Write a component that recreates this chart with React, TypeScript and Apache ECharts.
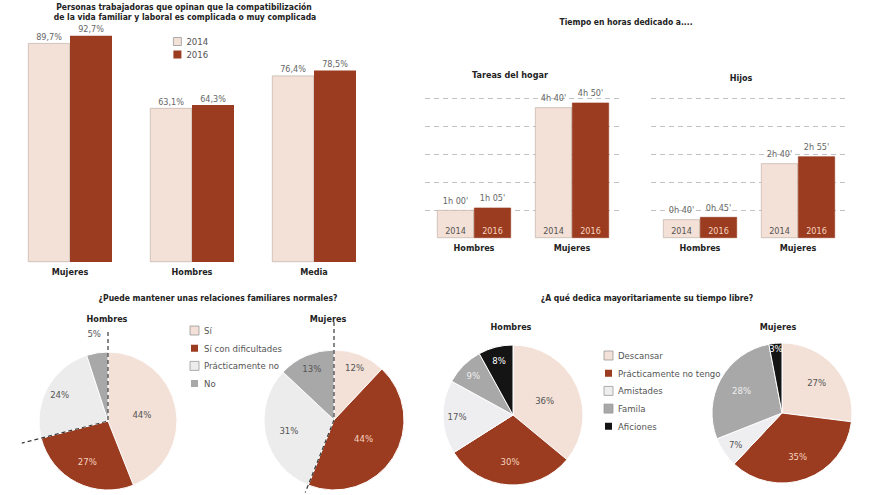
import React, { useEffect, useRef } from 'react';
import * as echarts from 'echarts';

// ---------- data ----------
const groups = ['Mujeres', 'Hombres', 'Media'];
const compat2014 = [89.7, 63.1, 76.4];
const compat2016 = [92.7, 64.3, 78.5];
const years = ['2014', '2016'];

const sexes = ['Hombres', 'Mujeres'];
const hogar2014 = [60, 280]; // minutes
const hogar2016 = [65, 290];
const hijos2014 = [40, 160];
const hijos2016 = [45, 175];

const relacionesNames = ['Sí', 'Sí con dificultades', 'Prácticamente no', 'No'];
const relacionesHombres = [44, 27, 24, 5];
const relacionesMujeres = [12, 44, 31, 13];

const libreNames = ['Descansar', 'Prácticamente no tengo', 'Amistades', 'Famila', 'Aficiones'];
const libreHombres = [36, 30, 17, 9, 8];
const libreMujeres = [27, 35, 7, 28, 3];

// ---------- style ----------
const FONT = "'Liberation Sans Narrow', 'DejaVu Sans Condensed', 'Open Sans', sans-serif";
const BEIGE = '#f3e0d6';
const BROWN = '#9b3b20';
const LIGHT = '#ececec';
const GRAY = '#a8a8a8';
const BLACK = '#141414';
const TXT = '#555';

const pct = (v: number) => v.toFixed(1).replace('.', ',') + '%';
const hm = (m: number) => `${Math.floor(m / 60)}h ${String(m % 60).padStart(2, '0')}'`;
const sum = (a: number[]) => a.reduce((s, v) => s + v, 0);

function pieSeries(
  name: string, names: string[], values: number[], colors: string[], labelColors: string[],
  cx: number, cy: number, r: number, smallFactor: number
) {
  const total = sum(values);
  return {
    type: 'pie', name, center: [cx, cy], radius: r, startAngle: 90, clockwise: true,
    silent: true,
    data: values.map((v, i) => ({
      name: names[i], value: v,
      itemStyle: { color: colors[i] },
      label: { color: labelColors[i] },
    })),
    label: { show: true, position: 'inside', formatter: '{c}%', fontSize: 9.5, fontFamily: FONT },
    labelLine: { show: false },
    itemStyle: { borderColor: '#ffffff', borderWidth: 1 },
    labelLayout: (p: any) => {
      const i = p.dataIndex;
      let before = 0;
      for (let k = 0; k < i; k++) before += values[k];
      const share = values[i] / total;
      const mid = ((before + values[i] / 2) / total) * 2 * Math.PI;
      const f = share >= 0.36 ? 0.5 : share >= 0.26 ? 0.66 : share >= 0.06 ? 0.8 : smallFactor;
      return { x: cx + r * f * Math.sin(mid), y: cy - r * f * Math.cos(mid), align: 'center', verticalAlign: 'middle' };
    },
  };
}

function splitLine(cx: number, cy: number, r: number, values: number[], upExt: number, downExt: number) {
  const a = ((values[0] + values[1]) / sum(values)) * 2 * Math.PI;
  return {
    type: 'polyline', z: 100,
    shape: { points: [[cx, cy - r - upExt], [cx, cy], [cx + (r + downExt) * Math.sin(a), cy - (r + downExt) * Math.cos(a)]] },
    style: { stroke: '#3a3a3a', lineWidth: 1.2, lineDash: [4, 3], fill: null },
  };
}

const txt = (text: string, x: number, y: number, size = 8.5, weight: any = 'bold') => ({
  type: 'text', x, y, z: 100,
  style: { text, x: 0, y: 0, align: 'center', verticalAlign: 'middle', fill: '#222', font: `${weight} ${size}px ${FONT}`, lineHeight: 10 },
});

const timeAxisY = (gridIndex: number) => ({
  type: 'value', gridIndex, min: 0, max: 5, interval: 1,
  axisLabel: { show: false }, axisLine: { show: false }, axisTick: { show: false },
  splitLine: { show: true, lineStyle: { color: ['rgba(0,0,0,0)', '#c2c2c2', '#c2c2c2', '#c2c2c2', '#c2c2c2', '#c2c2c2'], type: [5, 4], width: 1 } },
});
const catAxis = (gridIndex: number, data: string[], margin: number) => ({
  type: 'category', gridIndex, data,
  axisLine: { show: false }, axisTick: { show: false },
  axisLabel: { fontFamily: FONT, fontWeight: 'bold', fontSize: 9, color: '#222', margin },
});

function timeSeries(axis: number, stackKey: string, year: string, minutes: number[], color: string, yearColor: string, border: string) {
  return [
    {
      type: 'bar', name: year, xAxisIndex: axis, yAxisIndex: axis, stack: stackKey + year,
      data: minutes.map((m) => m / 60), barWidth: 37, barGap: 0,
      itemStyle: { color, borderColor: border, borderWidth: 0.6 },
      label: { show: true, position: 'insideBottom', distance: 3, formatter: year, color: yearColor, fontSize: 9, fontFamily: FONT },
    },
    {
      type: 'bar', name: 'v' + stackKey + year, xAxisIndex: axis, yAxisIndex: axis, stack: stackKey + year,
      data: minutes.map(() => 0), barWidth: 37, barGap: 0,
      itemStyle: { color: 'rgba(0,0,0,0)' },
      label: { show: true, position: 'top', distance: 5, formatter: (p: any) => hm(minutes[p.dataIndex]), color: '#666', fontSize: 9, fontFamily: FONT },
    },
  ];
}

export default function App() {
  const ref = useRef<HTMLDivElement>(null);
  useEffect(() => {
    const chart = echarts.init(ref.current!, null, { renderer: 'svg' });
    const legendBox = { borderColor: '#999', borderWidth: 0.8 };
    chart.setOption({
      animation: false,
      backgroundColor: '#fff',
      textStyle: { fontFamily: FONT },
      grid: [
        { left: 9, top: 18, width: 366, height: 244 },
        { left: 425, top: 98, width: 196, height: 140 },
        { left: 651, top: 98, width: 196, height: 140 },
      ],
      xAxis: [catAxis(0, groups, 5), catAxis(1, sexes, 5), catAxis(2, sexes, 5)],
      yAxis: [
        { type: 'value', gridIndex: 0, min: 0, max: 100, show: false, splitLine: { show: false } },
        timeAxisY(1),
        timeAxisY(2),
      ],
      legend: [
        {
          data: [{ name: years[0], itemStyle: legendBox }, { name: years[1] }],
          orient: 'vertical', left: 168, top: 31, itemWidth: 8, itemHeight: 8, itemGap: 2,
          textStyle: { color: TXT, fontSize: 9.5, fontFamily: FONT, lineHeight: 11 }, icon: 'rect', selectedMode: false,
        },
        {
          data: relacionesNames.map((n, i) => (i === 1 || i === 3 ? { name: n } : { name: n, itemStyle: legendBox })),
          orient: 'vertical', left: 184, top: 320, itemWidth: 9, itemHeight: 9, itemGap: 6.7,
          textStyle: { color: TXT, fontSize: 9.5, fontFamily: FONT, lineHeight: 11 }, icon: 'rect', selectedMode: false,
        },
        {
          data: libreNames.map((n, i) => (i === 1 || i === 4 ? { name: n } : { name: n, itemStyle: legendBox })),
          orient: 'vertical', left: 598, top: 345, itemWidth: 9, itemHeight: 9, itemGap: 6.7,
          textStyle: { color: TXT, fontSize: 9.5, fontFamily: FONT, lineHeight: 11 }, icon: 'rect', selectedMode: false,
        },
      ],
      series: [
        {
          type: 'bar', name: years[0], xAxisIndex: 0, yAxisIndex: 0, data: compat2014, barWidth: 42, barGap: 0,
          itemStyle: { color: BEIGE, borderColor: '#b9a79e', borderWidth: 0.6 },
          label: { show: true, position: 'top', distance: 2, formatter: (p: any) => pct(p.value), color: '#666', fontSize: 9, fontFamily: FONT },
        },
        {
          type: 'bar', name: years[1], xAxisIndex: 0, yAxisIndex: 0, data: compat2016, barWidth: 42, barGap: 0,
          itemStyle: { color: BROWN },
          label: { show: true, position: 'top', distance: 2, formatter: (p: any) => pct(p.value), color: '#666', fontSize: 9, fontFamily: FONT },
        },
        ...timeSeries(1, 'hogar', years[0], hogar2014, BEIGE, '#555', '#b9a79e'),
        ...timeSeries(1, 'hogar', years[1], hogar2016, BROWN, '#f6d3bf', BROWN),
        ...timeSeries(2, 'hijos', years[0], hijos2014, BEIGE, '#555', '#b9a79e'),
        ...timeSeries(2, 'hijos', years[1], hijos2016, BROWN, '#f6d3bf', BROWN),
        pieSeries('Relaciones Hombres', relacionesNames, relacionesHombres,
          [BEIGE, BROWN, LIGHT, GRAY], [TXT, '#f6d3bf', TXT, TXT], 108, 421, 69, 1.28),
        pieSeries('Relaciones Mujeres', relacionesNames, relacionesMujeres,
          [BEIGE, BROWN, LIGHT, GRAY], [TXT, '#f6d3bf', TXT, TXT], 334, 420, 70, 1.28),
        pieSeries('Libre Hombres', libreNames, libreHombres,
          [BEIGE, BROWN, '#eeeef1', GRAY, BLACK], [TXT, '#f6d3bf', TXT, '#eee', '#fff'], 513, 415, 70, 0.92),
        pieSeries('Libre Mujeres', libreNames, libreMujeres,
          [BEIGE, BROWN, '#eeeef1', GRAY, BLACK], [TXT, '#f6d3bf', TXT, '#eee', '#fff'], 782, 413, 70, 0.92),
      ],
      graphic: [
        txt('Personas trabajadoras que opinan que la compatibilización', 184, 7),
        txt('de la vida familiar y laboral es complicada o muy complicada', 185, 17),
        txt('Tiempo en horas dedicado a....', 626, 22),
        txt('Tareas del hogar', 510, 75, 9),
        txt('Hijos', 741, 78, 9),
        txt('¿Puede mantener unas relaciones familiares normales?', 218, 298),
        txt('Hombres', 107, 319, 9),
        txt('Mujeres', 328, 319, 9),
        txt('¿A qué dedica mayoritariamente su tiempo libre?', 647, 298),
        txt('Hombres', 511, 327, 9),
        txt('Mujeres', 778, 327, 9),
        splitLine(108, 421, 69, relacionesHombres, 20, 20),
        splitLine(334, 420, 70, relacionesMujeres, 28, 8),
      ],
    });
    return () => chart.dispose();
  }, []);
  return <div ref={ref} style={{ position: 'absolute', left: 0, top: 0, width: 880, height: 495, background: '#fff' }} />;
}
